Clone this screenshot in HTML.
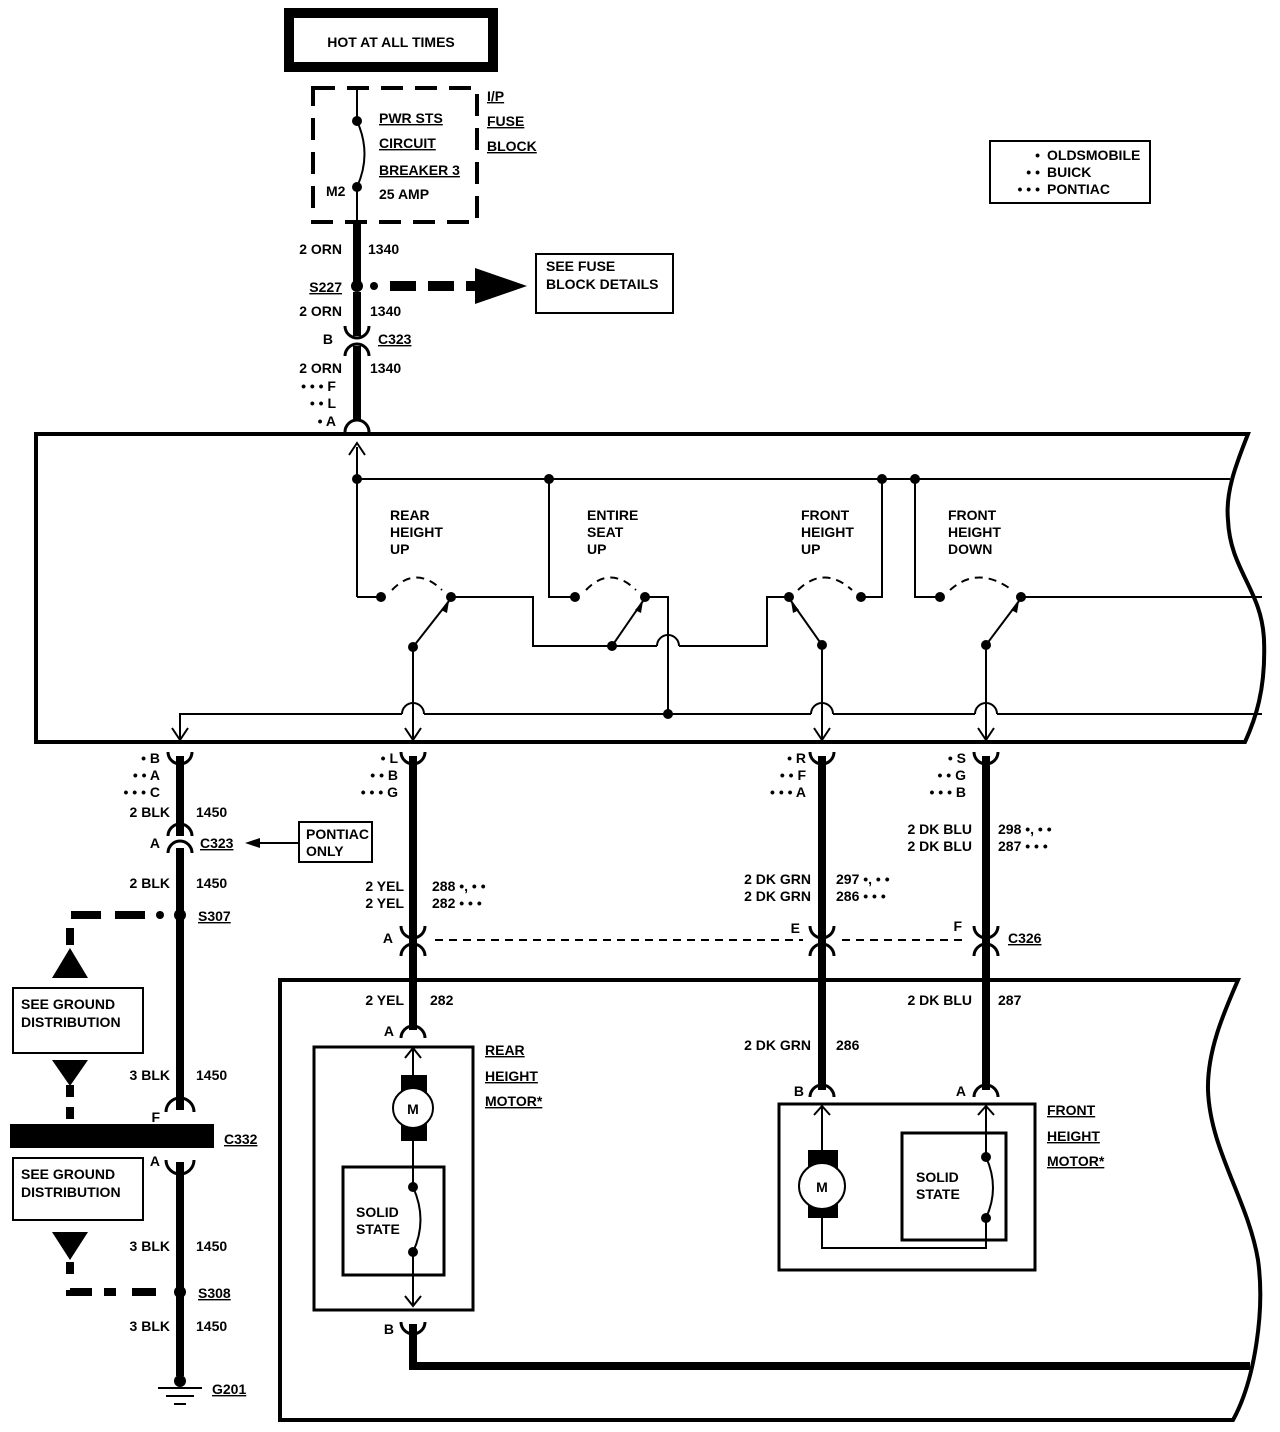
<!DOCTYPE html>
<html><head><meta charset="utf-8"><style>
html,body{margin:0;padding:0;background:#fff;}
svg{display:block;}
text{font-family:"Liberation Sans",sans-serif;font-weight:bold;font-size:14px;fill:#000;}
.u{text-decoration:underline;}
</style></head><body>
<svg width="1280" height="1432" viewBox="0 0 1280 1432" xmlns="http://www.w3.org/2000/svg">
<g fill="none" stroke="#000" stroke-linecap="butt">
<rect x="289" y="13" width="204" height="54" stroke-width="10"/>
<rect x="313" y="88" width="164" height="134" stroke-width="4" stroke-dasharray="22,12"/>
<line x1="357" y1="88" x2="357" y2="121" stroke-width="2"/>
<path d="M357 121 Q372 154 357 187" stroke-width="2"/>
<line x1="357" y1="187" x2="357" y2="222" stroke-width="2"/>
<line x1="357" y1="222" x2="357" y2="282" stroke-width="8"/>
<line x1="357" y1="292" x2="357" y2="336" stroke-width="8"/>
<path d="M345 326 A12 12 0 0 0 369 326" stroke-width="3"/>
<path d="M345 356 A12 12 0 0 1 369 356" stroke-width="3"/>
<line x1="357" y1="346" x2="357" y2="420" stroke-width="8"/>
<path d="M345 432 A12 12 0 0 1 369 432" stroke-width="3"/>
<line x1="390" y1="286" x2="475" y2="286" stroke-width="10" stroke-dasharray="26,12"/>
<rect x="536" y="254" width="137" height="59" stroke-width="2"/>
<rect x="990" y="141" width="160" height="62" stroke-width="2"/>

<path d="M36 434 L1248 434 C1238 460 1225 490 1228 520 C1230 570 1262 590 1264 640 C1266 690 1255 720 1245 742 L36 742 Z" stroke-width="4"/>
<g stroke-width="2">
<line x1="357" y1="447" x2="357" y2="597"/>
<line x1="357" y1="479" x2="1230" y2="479"/>
<polyline points="357,597 381,597"/>
<polyline points="549,479 549,597 575,597"/>
<polyline points="882,479 882,597 861,597"/>
<polyline points="915,479 915,597 940,597"/>
<line x1="1021" y1="597" x2="1262" y2="597"/>
<polyline points="451,597 533,597 533,646 657,646"/>
<path d="M657 646 A11 11 0 0 1 679 646"/>
<polyline points="679,646 767,646 767,597 789,597"/>
<polyline points="645,597 668,597 668,714"/>
<path d="M392 590 Q416 565 442 590" stroke-dasharray="8,6"/>
<path d="M586 590 Q610 565 636 590" stroke-dasharray="8,6"/>
<path d="M798 590 Q824 565 852 590" stroke-dasharray="8,6"/>
<path d="M950 590 Q978 565 1012 590" stroke-dasharray="8,6"/>
<line x1="413" y1="647" x2="449" y2="601"/>
<line x1="612" y1="646" x2="643" y2="601"/>
<line x1="822" y1="645" x2="791" y2="601"/>
<line x1="986" y1="645" x2="1019" y2="601"/>
<line x1="413" y1="647" x2="413" y2="742"/>
<line x1="822" y1="645" x2="822" y2="742"/>
<line x1="986" y1="645" x2="986" y2="742"/>
<polyline points="180,742 180,714 402,714"/>
<path d="M402 714 A11 11 0 0 1 424 714"/>
<line x1="424" y1="714" x2="811" y2="714"/>
<path d="M811 714 A11 11 0 0 1 833 714"/>
<line x1="833" y1="714" x2="975" y2="714"/>
<path d="M975 714 A11 11 0 0 1 997 714"/>
<line x1="997" y1="714" x2="1262" y2="714"/>
<polyline points="172,728 180,740 188,728"/>
<polyline points="405,728 413,740 421,728"/>
<polyline points="814,728 822,740 830,728"/>
<polyline points="978,728 986,740 994,728"/>
<polyline points="349,455 357,443 365,455"/>
</g>
<g fill="#000" stroke="none">
<polygon points="449,601 441,610 447,613"/>
<polygon points="643,601 635,610 641,613"/>
<polygon points="791,601 793,613 799,610"/>
<polygon points="1019,601 1011,610 1017,613"/>
</g>

<g stroke-width="3">
<path d="M168 752 A12 12 0 0 0 192 752"/>
<path d="M401 752 A12 12 0 0 0 425 752"/>
<path d="M810 752 A12 12 0 0 0 834 752"/>
<path d="M974 752 A12 12 0 0 0 998 752"/>
<path d="M168 836 A12 12 0 0 1 192 836"/>
<path d="M168 853 A12 12 0 0 1 192 853"/>
<path d="M401 926 A12 12 0 0 0 425 926"/>
<path d="M401 956 A12 12 0 0 1 425 956"/>
<path d="M810 926 A12 12 0 0 0 834 926"/>
<path d="M810 956 A12 12 0 0 1 834 956"/>
<path d="M974 926 A12 12 0 0 0 998 926"/>
<path d="M974 956 A12 12 0 0 1 998 956"/>
<path d="M166 1112 A14 14 0 0 1 194 1112"/>
<path d="M166 1160 A14 14 0 0 0 194 1160"/>
<path d="M401 1038 A12 12 0 0 1 425 1038"/>
<path d="M401 1322 A12 12 0 0 0 425 1322"/>
<path d="M810 1097 A12 12 0 0 1 834 1097"/>
<path d="M974 1097 A12 12 0 0 1 998 1097"/>
</g>
<g stroke-width="8">
<line x1="180" y1="756" x2="180" y2="836"/>
<line x1="180" y1="848" x2="180" y2="1110"/>
<line x1="180" y1="1162" x2="180" y2="1376"/>
<line x1="413" y1="756" x2="413" y2="1030"/>
<line x1="822" y1="756" x2="822" y2="1090"/>
<line x1="986" y1="756" x2="986" y2="1090"/>
<polyline points="413,1324 413,1366 1250,1366"/>
</g>
<line x1="435" y1="940" x2="803" y2="940" stroke-width="2" stroke-dasharray="8,6"/>
<line x1="842" y1="940" x2="965" y2="940" stroke-width="2" stroke-dasharray="8,6"/>
<line x1="258" y1="843" x2="299" y2="843" stroke-width="2"/>
<rect x="299" y="822" width="73" height="40" stroke-width="2"/>
<polyline points="145,915 70,915 70,945" stroke-width="8" stroke-dasharray="30,14"/>
<line x1="70" y1="1085" x2="70" y2="1122" stroke-width="8" stroke-dasharray="12,10"/>
<polyline points="70,1262 70,1292 160,1292" stroke-width="8" stroke-dasharray="12,16,24,12"/>
<rect x="13" y="988" width="130" height="65" stroke-width="2"/>
<rect x="13" y="1158" width="130" height="62" stroke-width="2"/>
<line x1="158" y1="1388" x2="202" y2="1388" stroke-width="2"/>
<line x1="166" y1="1396" x2="194" y2="1396" stroke-width="2"/>
<line x1="174" y1="1404" x2="186" y2="1404" stroke-width="2"/>

<path d="M280 980 L1238 980 C1225 1010 1207 1050 1208 1090 C1210 1150 1248 1200 1258 1260 C1265 1310 1255 1380 1233 1420 L280 1420 Z" stroke-width="4"/>
<rect x="314" y="1047" width="159" height="263" stroke-width="3"/>
<g stroke-width="2">
<line x1="413" y1="1049" x2="413" y2="1075"/>
<polyline points="405,1058 413,1048 421,1058"/>
<line x1="413" y1="1140" x2="413" y2="1187"/>
<path d="M413 1187 Q428 1220 413 1252"/>
<line x1="413" y1="1252" x2="413" y2="1306"/>
<polyline points="405,1296 413,1306 421,1296"/>
<rect x="343" y="1167" width="101" height="108" stroke-width="3"/>
</g>
<rect x="779" y="1104" width="256" height="166" stroke-width="3"/>
<g stroke-width="2">
<line x1="822" y1="1106" x2="822" y2="1152"/>
<polyline points="814,1115 822,1106 830,1115"/>
<line x1="986" y1="1106" x2="986" y2="1157"/>
<polyline points="978,1115 986,1106 994,1115"/>
<path d="M986 1157 Q1000 1188 986 1218"/>
<polyline points="822,1216 822,1248 986,1248 986,1218"/>
<rect x="902" y="1133" width="104" height="107" stroke-width="3"/>
</g>
</g>

<g fill="#000">
<circle cx="357" cy="121" r="5"/><circle cx="357" cy="187" r="5"/>
<circle cx="357" cy="286" r="6"/><circle cx="374" cy="286" r="4"/>
<polygon points="475,268 527,286 475,304"/>
<circle cx="357" cy="479" r="5"/><circle cx="549" cy="479" r="5"/><circle cx="882" cy="479" r="5"/><circle cx="915" cy="479" r="5"/>
<circle cx="381" cy="597" r="5"/><circle cx="451" cy="597" r="5"/>
<circle cx="575" cy="597" r="5"/><circle cx="645" cy="597" r="5"/>
<circle cx="789" cy="597" r="5"/><circle cx="861" cy="597" r="5"/>
<circle cx="940" cy="597" r="5"/><circle cx="1021" cy="597" r="5"/>
<circle cx="413" cy="647" r="5"/><circle cx="612" cy="646" r="5"/><circle cx="822" cy="645" r="5"/><circle cx="986" cy="645" r="5"/>
<circle cx="668" cy="714" r="5"/>
<polygon points="245,843 260,838 260,848"/>
<circle cx="180" cy="915" r="6"/><circle cx="160" cy="915" r="4"/>
<polygon points="70,948 88,978 52,978"/>
<polygon points="52,1060 88,1060 70,1086"/>
<rect x="10" y="1124" width="204" height="24"/>
<polygon points="52,1232 88,1232 70,1260"/>
<circle cx="180" cy="1292" r="6"/>
<circle cx="180" cy="1381" r="6"/>
<rect x="401" y="1075" width="26" height="66"/>
<circle cx="413" cy="1187" r="5"/><circle cx="413" cy="1252" r="5"/>
<rect x="808" y="1150" width="30" height="68"/>
<circle cx="986" cy="1157" r="5"/><circle cx="986" cy="1218" r="5"/>
</g>
<g fill="#fff" stroke="#000" stroke-width="2">
<circle cx="413" cy="1108" r="20"/>
<circle cx="822" cy="1186" r="23"/>
</g>

<text x="391" y="47" text-anchor="middle">HOT AT ALL TIMES</text>
<text x="379" y="123" class="u">PWR STS</text>
<text x="379" y="148" class="u">CIRCUIT</text>
<text x="379" y="175" class="u">BREAKER 3</text>
<text x="379" y="199">25 AMP</text>
<text x="326" y="196">M2</text>
<text x="487" y="101" class="u">I/P</text>
<text x="487" y="126" class="u">FUSE</text>
<text x="487" y="151" class="u">BLOCK</text>
<text x="342" y="254" text-anchor="end">2 ORN</text><text x="368" y="254">1340</text>
<text x="342" y="292" text-anchor="end" class="u">S227</text>
<text x="342" y="316" text-anchor="end">2 ORN</text><text x="370" y="316">1340</text>
<text x="333" y="344" text-anchor="end">B</text><text x="378" y="344" class="u">C323</text>
<text x="342" y="373" text-anchor="end">2 ORN</text><text x="370" y="373">1340</text>
<text x="336" y="391" text-anchor="end">• • • F</text>
<text x="336" y="408" text-anchor="end">• • L</text>
<text x="336" y="426" text-anchor="end">• A</text>
<text x="546" y="271">SEE FUSE</text>
<text x="546" y="289">BLOCK DETAILS</text>
<text x="1047" y="160" font-size="13">OLDSMOBILE</text>
<text x="1047" y="177" font-size="13">BUICK</text>
<text x="1047" y="194" font-size="13">PONTIAC</text>
<text x="1040" y="160" text-anchor="end">•</text>
<text x="1040" y="177" text-anchor="end">• •</text>
<text x="1040" y="194" text-anchor="end">• • •</text>

<text x="390" y="520">REAR</text><text x="390" y="537">HEIGHT</text><text x="390" y="554">UP</text>
<text x="587" y="520">ENTIRE</text><text x="587" y="537">SEAT</text><text x="587" y="554">UP</text>
<text x="801" y="520">FRONT</text><text x="801" y="537">HEIGHT</text><text x="801" y="554">UP</text>
<text x="948" y="520">FRONT</text><text x="948" y="537">HEIGHT</text><text x="948" y="554">DOWN</text>

<text x="160" y="763" text-anchor="end">• B</text>
<text x="160" y="780" text-anchor="end">• • A</text>
<text x="160" y="797" text-anchor="end">• • • C</text>
<text x="170" y="817" text-anchor="end">2 BLK</text><text x="196" y="817">1450</text>
<text x="160" y="848" text-anchor="end">A</text><text x="200" y="848" class="u">C323</text>
<text x="306" y="839">PONTIAC</text><text x="306" y="856">ONLY</text>
<text x="170" y="888" text-anchor="end">2 BLK</text><text x="196" y="888">1450</text>
<text x="198" y="921" class="u">S307</text>
<text x="21" y="1009">SEE GROUND</text><text x="21" y="1027">DISTRIBUTION</text>
<text x="170" y="1080" text-anchor="end">3 BLK</text><text x="196" y="1080">1450</text>
<text x="160" y="1122" text-anchor="end">F</text>
<text x="160" y="1166" text-anchor="end">A</text>
<text x="224" y="1144" class="u">C332</text>
<text x="21" y="1179">SEE GROUND</text><text x="21" y="1197">DISTRIBUTION</text>
<text x="170" y="1251" text-anchor="end">3 BLK</text><text x="196" y="1251">1450</text>
<text x="198" y="1298" class="u">S308</text>
<text x="170" y="1331" text-anchor="end">3 BLK</text><text x="196" y="1331">1450</text>
<text x="212" y="1394" class="u">G201</text>

<text x="398" y="763" text-anchor="end">• L</text>
<text x="398" y="780" text-anchor="end">• • B</text>
<text x="398" y="797" text-anchor="end">• • • G</text>
<text x="806" y="763" text-anchor="end">• R</text>
<text x="806" y="780" text-anchor="end">• • F</text>
<text x="806" y="797" text-anchor="end">• • • A</text>
<text x="966" y="763" text-anchor="end">• S</text>
<text x="966" y="780" text-anchor="end">• • G</text>
<text x="966" y="797" text-anchor="end">• • • B</text>
<text x="972" y="834" text-anchor="end">2 DK BLU</text><text x="998" y="834">298 •, • •</text>
<text x="972" y="851" text-anchor="end">2 DK BLU</text><text x="998" y="851">287 • • •</text>
<text x="811" y="884" text-anchor="end">2 DK GRN</text><text x="836" y="884">297 •, • •</text>
<text x="811" y="901" text-anchor="end">2 DK GRN</text><text x="836" y="901">286 • • •</text>
<text x="404" y="891" text-anchor="end">2 YEL</text><text x="432" y="891">288 •, • •</text>
<text x="404" y="908" text-anchor="end">2 YEL</text><text x="432" y="908">282 • • •</text>
<text x="393" y="943" text-anchor="end">A</text>
<text x="800" y="933" text-anchor="end">E</text>
<text x="962" y="931" text-anchor="end">F</text>
<text x="1008" y="943" class="u">C326</text>
<text x="404" y="1005" text-anchor="end">2 YEL</text><text x="430" y="1005">282</text>
<text x="972" y="1005" text-anchor="end">2 DK BLU</text><text x="998" y="1005">287</text>
<text x="811" y="1050" text-anchor="end">2 DK GRN</text><text x="836" y="1050">286</text>
<text x="394" y="1036" text-anchor="end">A</text>
<text x="394" y="1334" text-anchor="end">B</text>
<text x="804" y="1096" text-anchor="end">B</text>
<text x="966" y="1096" text-anchor="end">A</text>
<text x="485" y="1055" class="u">REAR</text><text x="485" y="1081" class="u">HEIGHT</text><text x="485" y="1106" class="u">MOTOR*</text>
<text x="1047" y="1115" class="u">FRONT</text><text x="1047" y="1141" class="u">HEIGHT</text><text x="1047" y="1166" class="u">MOTOR*</text>
<text x="413" y="1114" text-anchor="middle" font-size="16">M</text>
<text x="822" y="1192" text-anchor="middle" font-size="16">M</text>
<text x="356" y="1217">SOLID</text><text x="356" y="1234">STATE</text>
<text x="916" y="1182">SOLID</text><text x="916" y="1199">STATE</text>
</svg>
</body></html>
